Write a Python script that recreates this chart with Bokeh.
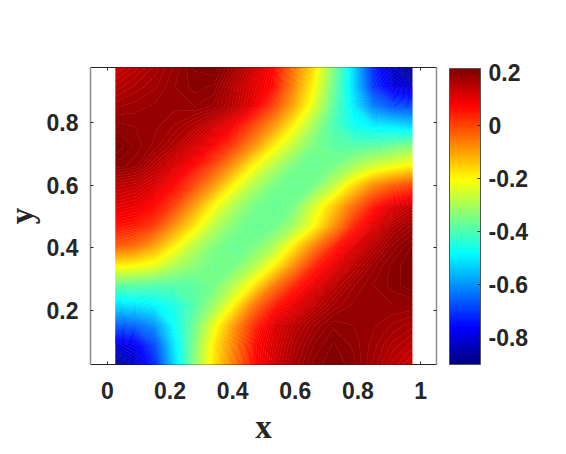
import numpy as np
from bokeh.plotting import figure
from bokeh.models import LinearColorMapper, ColorBar, FixedTicker, LinearAxis, Range1d
from bokeh.embed import file_html
from bokeh.resources import INLINE

# Values, bottom row first (y about 0.03) to top row (y about 0.975)
x_ticks = [0, 0.2, 0.4, 0.6, 0.8, 1]
y_ticks = [0.2, 0.4, 0.6, 0.8]
cbar_ticks = [-0.8, -0.6, -0.4, -0.2, 0, 0.2]
x_vals = [.0255,.089,.152,.215,.278,.341,.404,.467,.533,.596,.659,.722,.785,.848,.911,.974]
y_vals = [.0275,.091,.154,.217,.28,.343,.406,.469,.535,.598,.661,.724,.787,.85,.913,.976]
row_00 = [-.88,-.82,-.72,-.52,-.33,-.17,-.05,.065,.13,.175,.205,.215,.205,.18,.15,.13]
row_01 = [-.80,-.78,-.68,-.50,-.34,-.18,-.06,.06,.12,.165,.195,.21,.20,.185,.165,.15]
row_02 = [-.66,-.65,-.60,-.47,-.36,-.22,-.09,.03,.11,.15,.18,.20,.195,.19,.18,.17]
row_03 = [-.52,-.51,-.49,-.45,-.39,-.31,-.19,-.05,.05,.10,.145,.175,.19,.195,.195,.195]
row_04 = [-.38,-.38,-.39,-.39,-.38,-.35,-.28,-.18,-.05,.04,.10,.15,.18,.195,.205,.215]
row_05 = [-.19,-.20,-.23,-.29,-.33,-.36,-.35,-.29,-.19,-.07,.04,.10,.15,.185,.205,.215]
row_06 = [-.02,-.04,-.10,-.19,-.28,-.34,-.37,-.35,-.29,-.18,-.06,.04,.11,.155,.19,.21]
row_07 = [.06,.05,.01,-.08,-.18,-.28,-.34,-.37,-.36,-.30,-.20,-.08,.04,.11,.16,.185]
row_08 = [.11,.10,.07,.01,-.09,-.20,-.29,-.35,-.37,-.35,-.25,-.145,-.04,.05,.11,.14]
row_09 = [.15,.14,.115,.07,.0,-.09,-.20,-.29,-.35,-.37,-.35,-.27,-.16,-.07,-.02,.01]
row_10 = [.20,.19,.155,.115,.07,.0,-.09,-.20,-.29,-.35,-.37,-.35,-.30,-.25,-.22,-.19]
row_11 = [.215,.20,.185,.16,.12,.075,.01,-.08,-.19,-.28,-.35,-.38,-.39,-.38,-.36,-.33]
row_12 = [.20,.195,.19,.18,.16,.125,.08,.0,-.09,-.20,-.31,-.40,-.46,-.49,-.50,-.52]
row_13 = [.18,.185,.19,.19,.195,.185,.15,.10,.0,-.11,-.24,-.38,-.50,-.62,-.67,-.68]
row_14 = [.155,.17,.18,.195,.205,.20,.155,.11,.06,-.07,-.20,-.36,-.52,-.70,-.79,-.82]
row_15 = [.13,.15,.17,.19,.21,.215,.18,.13,.07,-.05,-.17,-.34,-.52,-.72,-.83,-.89]
rows = [row_00,row_01,row_02,row_03,row_04,row_05,row_06,row_07,
        row_08,row_09,row_10,row_11,row_12,row_13,row_14,row_15]
z = np.array(rows, dtype=float)

def jet(n=256):
    t = (np.arange(n) + 0.5) / n
    r = np.clip(np.minimum(4*t-1.5, -4*t+4.5), 0, 1)
    g = np.clip(np.minimum(4*t-0.5, -4*t+3.5), 0, 1)
    b = np.clip(np.minimum(4*t+0.5, -4*t+2.5), 0, 1)
    return ["#%02x%02x%02x" % (int(a*255), int(c*255), int(d*255)) for a, c, d in zip(r, g, b)]

LOW, HIGH = -0.9, 0.216
mapper = LinearColorMapper(palette=jet(), low=LOW, high=HIGH)
INK = "#262626"
FONT = "Liberation Sans"

p = figure(width=550, height=438, frame_width=346, frame_height=297,
           x_range=Range1d(-0.054, 1.051), y_range=Range1d(0.0275, 0.976),
           output_backend="svg", toolbar_location=None,
           min_border_left=81, min_border_top=67, min_border_bottom=74, min_border_right=10)
p.grid.visible = False
p.outline_line_color = None

n_bands = 160
levels = list(np.linspace(LOW, HIGH, n_bands + 1))
band_colors = jet(n_bands)
line_colors = jet(n_bands + 1)
field = p.contour(x_vals, y_vals, z, levels, fill_color=band_colors,
                  line_color=line_colors, line_width=0.8)
field.level = "annotation"

for ax, ticks, label in ((p.xaxis[0], x_ticks, "x"), (p.yaxis[0], y_ticks, "y")):
    ax.ticker = FixedTicker(ticks=ticks)
    ax.minor_tick_line_color = None
    ax.major_tick_in = 3
    ax.major_tick_out = 0
    ax.major_tick_line_color = INK
    ax.major_label_text_font = FONT
    ax.major_label_text_font_style = "bold"
    ax.major_label_text_font_size = "23px"
    ax.major_label_text_color = INK
    ax.axis_label = label
    ax.axis_label_text_font = "Liberation Serif"
    ax.axis_label_text_font_style = "bold"
    ax.axis_label_text_font_size = "33px"
    ax.axis_label_text_color = INK
p.xaxis[0].axis_line_color = INK
p.yaxis[0].axis_line_color = "#8c8c8c"
p.yaxis[0].axis_line_width = 1.5
p.xaxis[0].major_label_standoff = 17
p.yaxis[0].major_label_standoff = 12
p.yaxis[0].major_label_orientation = "horizontal"
p.xaxis[0].axis_label_standoff = 7
p.yaxis[0].axis_label_standoff = 4

for side, ticks, color, w in (("above", x_ticks, INK, 1), ("right", y_ticks, "#8c8c8c", 1.5)):
    a = LinearAxis(ticker=FixedTicker(ticks=ticks), major_label_text_font_size="0px",
                   major_label_text_color=None, minor_tick_line_color=None,
                   major_tick_in=3, major_tick_out=0, major_tick_line_color=INK,
                   axis_line_color=color, axis_line_width=w, major_label_standoff=0)
    p.add_layout(a, side)

cb = ColorBar(color_mapper=mapper, width=31, height=296, padding=0, margin=14,
              location=(13, 0), ticker=FixedTicker(ticks=cbar_ticks),
              major_label_overrides={t: ("%g" % t) for t in cbar_ticks},
              major_label_text_font=FONT, major_label_text_font_style="bold",
              major_label_text_font_size="23px", major_label_text_color=INK,
              major_tick_in=3, major_tick_line_color=INK, minor_tick_line_color=None,
              bar_line_color="#555555", label_standoff=8)
p.add_layout(cb, "right")

open("out.html", "w").write(file_html(p, INLINE))
